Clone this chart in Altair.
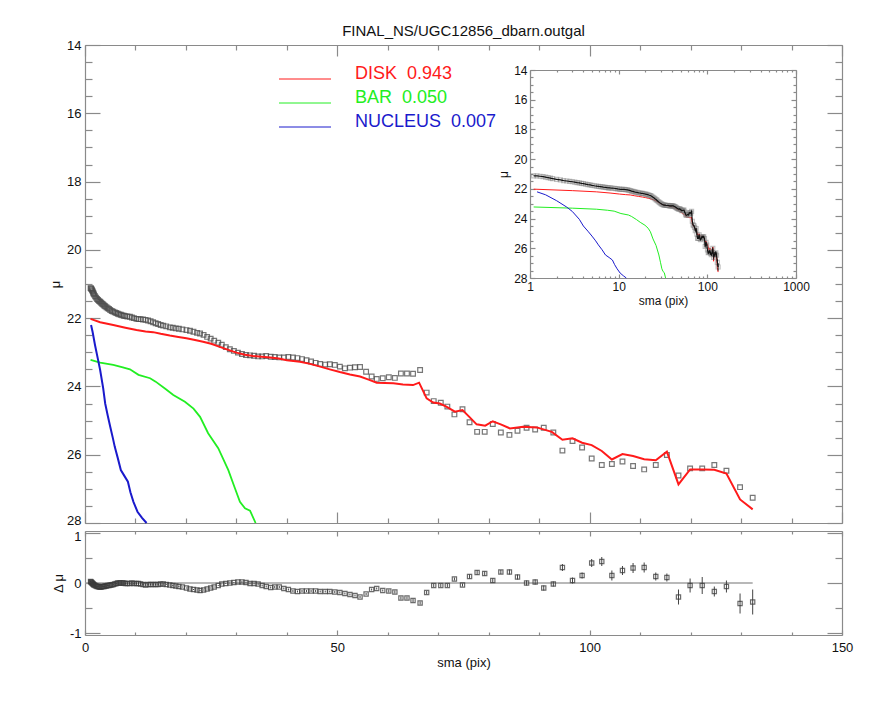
import altair as alt
import pandas as pd

# observed surface-brightness profile (sma in pix, mu, residual, error)
sma = [1.1, 1.2, 1.3, 1.4, 1.5, 1.6, 1.7, 1.8, 2.0, 2.2,
       2.4, 2.6, 2.8, 3.0, 3.2, 3.4, 3.6, 3.8, 4.0, 4.25,
       4.5, 4.75, 5.0, 5.3, 5.6, 5.9, 6.2, 6.5, 6.8, 7.1,
       7.4, 7.7, 8.0, 8.4, 8.9, 9.3, 9.7, 10.2, 10.6, 11.0,
       11.5, 12.0, 12.5, 13.0, 13.5, 14.0, 14.5, 15.0, 15.5, 16.1,
       16.8, 17.4, 18.0, 18.6, 19.3, 20.1, 20.8, 21.5, 22.2, 22.8,
       23.5, 24.2, 24.9, 25.6, 26.4, 27.1, 27.9, 28.7, 29.5, 30.3,
       31.1, 31.9, 32.7, 33.5, 34.3, 35.1, 35.9, 36.8, 37.6, 38.5,
       39.4, 40.3, 41.2, 42.1, 43.0, 43.9, 44.8, 45.7, 46.6, 47.6,
       48.5, 49.5, 50.5, 51.5, 52.5, 53.5, 54.5, 55.7, 56.8, 57.8,
       59.0, 60.2, 61.4, 62.6, 63.8, 65.0, 66.4, 67.7, 69.1, 70.5,
       71.8, 73.2, 74.8, 76.2, 77.7, 79.2, 80.8, 82.4, 84.1, 85.7,
       87.5, 89.2, 90.9, 92.8, 94.6, 96.6, 98.5, 100.4, 102.4, 104.4,
       106.5, 108.6, 110.8, 113.1, 115.3, 117.6, 119.9, 122.3, 124.7, 127.1,
       129.8, 132.3]
mu = [21.12, 21.13, 21.15, 21.18, 21.21, 21.25, 21.28, 21.31, 21.36, 21.40,
      21.44, 21.47, 21.50, 21.52, 21.55, 21.58, 21.60, 21.63, 21.65, 21.68,
      21.71, 21.73, 21.76, 21.79, 21.81, 21.83, 21.85, 21.87, 21.89, 21.90,
      21.92, 21.93, 21.94, 21.95, 21.96, 21.98, 22.00, 22.02, 22.03, 22.03,
      22.04, 22.05, 22.07, 22.09, 22.12, 22.15, 22.17, 22.20, 22.22, 22.24,
      22.27, 22.28, 22.30, 22.31, 22.33, 22.35, 22.37, 22.40, 22.43, 22.45,
      22.49, 22.55, 22.60, 22.66, 22.72, 22.78, 22.85, 22.91, 22.96, 23.01,
      23.05, 23.08, 23.09, 23.10, 23.12, 23.12, 23.11, 23.13, 23.14, 23.15,
      23.15, 23.14, 23.15, 23.17, 23.20, 23.23, 23.27, 23.31, 23.34, 23.36,
      23.35, 23.37, 23.42, 23.47, 23.45, 23.44, 23.43, 23.57, 23.71, 23.78,
      23.76, 23.73, 23.75, 23.62, 23.62, 23.63, 23.52, 24.18, 24.43, 24.48,
      24.59, 24.82, 24.67, 25.05, 25.33, 25.33, 25.10, 25.35, 25.42, 25.30,
      25.21, 25.26, 25.21, 25.35, 25.88, 25.60, 25.79, 26.11, 26.30, 26.27,
      26.20, 26.33, 26.43, 26.30, 26.01, 26.61, 26.40, 26.40, 26.30, 26.47,
      26.95, 27.26]
dmu = [0.03, 0.02, 0.01, 0.0, -0.01, -0.02, -0.03, -0.04, -0.05, -0.06,
       -0.07, -0.07, -0.08, -0.08, -0.08, -0.07, -0.07, -0.07, -0.06, -0.06,
       -0.05, -0.05, -0.04, -0.04, -0.03, -0.02, -0.01, 0.0, 0.0, 0.0,
       0.0, 0.0, -0.01, -0.01, -0.01, 0.0, -0.01, -0.01, -0.01, -0.02,
       -0.03, -0.04, -0.03, -0.03, -0.03, -0.03, -0.03, -0.02, -0.02, -0.03,
       -0.04, -0.05, -0.06, -0.07, -0.08, -0.10, -0.12, -0.13, -0.14, -0.15,
       -0.14, -0.12, -0.10, -0.08, -0.05, -0.02, -0.01, 0.0, 0.01, 0.02,
       0.02, 0.01, -0.01, -0.01, -0.02, -0.05, -0.07, -0.09, -0.08, -0.08,
       -0.11, -0.13, -0.16, -0.17, -0.16, -0.16, -0.16, -0.16, -0.17, -0.17,
       -0.17, -0.18, -0.19, -0.21, -0.23, -0.25, -0.28, -0.22, -0.13, -0.11,
       -0.15, -0.16, -0.18, -0.30, -0.30, -0.35, -0.40, -0.19, -0.05, -0.05,
       -0.05, 0.08, -0.04, 0.13, 0.21, 0.19, 0.05, 0.22, 0.22, 0.12,
       0.0, 0.02, -0.10, -0.02, 0.31, 0.05, 0.15, 0.40, 0.43, 0.15,
       0.25, 0.30, 0.31, 0.13, 0.11, -0.28, -0.05, -0.05, -0.17, -0.07,
       -0.41, -0.38]
err = [0.01, 0.01, 0.01, 0.01, 0.01, 0.01, 0.01, 0.01, 0.01, 0.01,
       0.01, 0.01, 0.01, 0.01, 0.01, 0.01, 0.01, 0.01, 0.01, 0.01,
       0.01, 0.01, 0.01, 0.01, 0.01, 0.01, 0.01, 0.01, 0.01, 0.01,
       0.01, 0.01, 0.01, 0.01, 0.01, 0.01, 0.01, 0.01, 0.01, 0.01,
       0.01, 0.01, 0.01, 0.01, 0.01, 0.01, 0.01, 0.01, 0.01, 0.01,
       0.01, 0.01, 0.01, 0.01, 0.01, 0.01, 0.01, 0.01, 0.01, 0.01,
       0.01, 0.01, 0.01, 0.01, 0.01, 0.01, 0.01, 0.01, 0.01, 0.01,
       0.02, 0.02, 0.02, 0.02, 0.02, 0.02, 0.02, 0.02, 0.02, 0.02,
       0.02, 0.02, 0.02, 0.02, 0.02, 0.02, 0.02, 0.02, 0.02, 0.02,
       0.02, 0.02, 0.02, 0.02, 0.02, 0.02, 0.02, 0.02, 0.02, 0.02,
       0.02, 0.03, 0.03, 0.03, 0.03, 0.03, 0.03, 0.03, 0.03, 0.03,
       0.03, 0.03, 0.03, 0.04, 0.04, 0.04, 0.04, 0.04, 0.05, 0.05,
       0.05, 0.05, 0.05, 0.05, 0.07, 0.06, 0.06, 0.08, 0.09, 0.10,
       0.09, 0.10, 0.10, 0.08, 0.08, 0.15, 0.14, 0.17, 0.10, 0.12,
       0.20, 0.25]

# model components
comp_names = ["DISK", "BAR", "NUCLEUS"]
comp_frac = [0.943, 0.050, 0.007]
comp_colors = ["#ff1a1a", "#22ee22", "#1a1acc"]

disk_sma = [1.1, 3.0, 5.6, 8.0, 10.2, 12.0, 13.5, 15.0, 16.8, 18.5,
            20.1, 21.8, 23.4, 25.0, 26.7, 28.4, 30.0, 31.7, 33.3, 35.0,
            36.7, 38.4, 40.0, 42.6, 44.6, 46.6, 48.5, 50.5, 52.5, 54.5,
            56.2, 57.8, 59.5, 61.1, 63.0, 65.0, 66.2, 67.7, 69.0, 70.3,
            71.6, 73.3, 74.8, 76.2, 77.6, 79.3, 80.8, 82.5, 84.2, 86.8,
            89.5, 92.5, 94.6, 96.6, 98.5, 100.4, 102.4, 104.4, 106.5, 108.6,
            110.8, 113.1, 115.3, 117.6, 119.9, 122.3, 124.7, 127.1, 129.8, 132.3]
disk_mu = [22.02, 22.12, 22.20, 22.28, 22.35, 22.39, 22.41, 22.46, 22.51, 22.55,
           22.59, 22.64, 22.69, 22.75, 22.84, 22.93, 23.01, 23.07, 23.11, 23.13,
           23.15, 23.18, 23.23, 23.28, 23.34, 23.42, 23.50, 23.58, 23.65, 23.71,
           23.80, 23.89, 23.90, 23.91, 23.94, 23.96, 23.89, 24.35, 24.47, 24.50,
           24.59, 24.74, 24.69, 24.90, 25.11, 25.15, 25.02, 25.12, 25.23, 25.18,
           25.20, 25.33, 25.56, 25.52, 25.65, 25.72, 25.89, 26.14, 25.98, 26.04,
           26.13, 26.16, 25.91, 26.87, 26.43, 26.43, 26.44, 26.55, 27.31, 27.60]
bar_sma = [1.1, 3.0, 5.6, 7.5, 8.9, 10.6, 12.9, 14.0, 15.9, 17.5, 19.8,
           21.5, 22.8, 24.4, 26.4, 28.4, 29.6, 30.7, 31.7, 32.7, 33.8]
bar_mu = [23.22, 23.30, 23.37, 23.44, 23.50, 23.66, 23.76, 23.86, 24.07, 24.25, 24.45,
          24.65, 24.89, 25.37, 25.81, 26.45, 26.94, 27.38, 27.57, 27.64, 28.0]
nuc_sma = [1.2, 1.5, 2.0, 2.6, 3.0, 3.6, 4.0, 4.5, 5.0, 5.5,
           5.9, 6.5, 7.1, 7.8, 8.5, 9.0, 9.6, 10.4, 11.3, 12.2]
nuc_mu = [22.20, 22.40, 22.80, 23.23, 23.52, 24.05, 24.50, 24.85, 25.18, 25.50,
          25.77, 26.10, 26.45, 26.62, 26.79, 27.10, 27.38, 27.67, 27.85, 28.0]

# tick values
main_y_ticks = [14, 14.5, 15, 15.5, 16, 16.5, 17, 17.5, 18, 18.5, 19, 19.5, 20, 20.5,
                21, 21.5, 22, 22.5, 23, 23.5, 24, 24.5, 25, 25.5, 26, 26.5, 27, 27.5, 28]
main_y_labels = [14, 16, 18, 20, 22, 24, 26, 28]
x_ticks = [0, 10, 20, 30, 40, 50, 60, 70, 80, 90, 100, 110, 120, 130, 140, 150]
x_labels = [0, 50, 100, 150]
res_y_ticks = [-1, -0.5, 0, 0.5, 1]
res_y_labels = [-1, 0, 1]
log_ticks = [1, 2, 3, 4, 5, 6, 7, 8, 9, 10, 20, 30, 40, 50, 60, 70, 80, 90,
             100, 200, 300, 400, 500, 600, 700, 800, 900, 1000]
log_labels = [1, 10, 100, 1000]

W, H = 757, 590
MAIN_H = 478
RES_TOP = 486
IN_X = [445, 711]
IN_Y = [25, 233]
GREY = "#8a8a8a"
FONT = "Liberation Sans"

obs = pd.DataFrame({"sma": sma, "mu": mu, "dmu": dmu, "err": err})
obs["mu_lo"] = obs["mu"] - obs["err"]
obs["mu_hi"] = obs["mu"] + obs["err"]
obs["d_lo"] = obs["dmu"] - obs["err"]
obs["d_hi"] = obs["dmu"] + obs["err"]

labels = [f"{n}\u00a0\u00a0{f:.3f}" for n, f in zip(comp_names, comp_frac)]
rows = []
for lab, xs, ys in zip(labels, [disk_sma, bar_sma, nuc_sma], [disk_mu, bar_mu, nuc_mu]):
    rows += [{"comp": lab, "sma": x, "mu": y} for x, y in zip(xs, ys)]
comps = pd.DataFrame(rows)
zero = pd.DataFrame({"x0": [0.0], "x1": [max(sma)], "y": [0.0]})


def lin(domain, rng):
    return alt.Scale(domain=domain, range=rng, nice=False, zero=False)


mx = lin([0, 150], [0, W])
my = lin([14, 28], [0, MAIN_H])
ry = lin([-1.04, 1.04], [H, RES_TOP])
ix = alt.Scale(type="log", domain=[1, 1000], range=IN_X, nice=False)
iy = lin([14, 28], IN_Y)

Y2 = "datum.value % 2 === 0"
X50 = "datum.value % 50 === 0"
Y1 = "datum.value % 1 === 0"
LOG = "indexof([1, 10, 100, 1000], datum.value) >= 0"


def tick_axis(orient, offset, values, test, big, small):
    # inward pointing IDL-style ticks: opposite orient placed on the frame edge
    return alt.Axis(orient=orient, offset=offset, values=values, labels=False,
                    domain=True, domainColor=GREY, domainWidth=1.2,
                    ticks=True, tickColor=GREY, tickWidth=1.2,
                    tickSize={"condition": {"test": test, "value": big}, "value": small},
                    grid=False, title=None)


def label_axis(orient, offset, values, title, size, pad, tpad, shift=None):
    extra = {}
    if shift:
        extra["labelOffset"] = {"condition": {"test": shift[0], "value": shift[1]}, "value": 0}
    return alt.Axis(orient=orient, offset=offset, values=values,
                    labelExpr="toString(datum.value)", labelFont=FONT,
                    labelFontSize=size, labelColor="#111", labelPadding=pad,
                    labelFlush=False, labelOverlap=False,
                    domain=False, ticks=False, tickSize=0, grid=False,
                    title=title, titleFont=FONT, titleFontSize=size,
                    titleFontWeight="normal", titleColor="#111", titlePadding=tpad,
                    **extra)


legend = alt.Legend(
    title=None, orient="none", legendX=211, legendY=20, padding=0,
    symbolType="M-5.2,1H5.2", symbolSize=100, symbolStrokeWidth=1,
    labelFont=FONT, labelFontSize=18, labelOffset=41, rowPadding=6, labelLimit=300,
    labelColor=alt.ExprRef(expr="indexof(datum.value, 'DISK') >= 0 ? '#ff1a1a' : "
                                "indexof(datum.value, 'BAR') >= 0 ? '#22ee22' : '#1a1acc'"),
)
color = alt.Color("comp:N", scale=alt.Scale(domain=labels, range=comp_colors), legend=legend)

square = dict(shape="square", filled=False, strokeWidth=1.2)

# main panel
m_sq = alt.Chart(obs).mark_point(size=22, color="#4a4a4a", opacity=0.75, **square).encode(
    x=alt.X("sma:Q", scale=mx, axis=tick_axis("top", -MAIN_H, x_ticks, X50, 11, 5)),
    y=alt.Y("mu:Q", scale=my, axis=label_axis("left", 0, main_y_labels, "μ", 13, 4, 4,
                                              shift=("datum.value === 28", -3))),
)
m_disk = alt.Chart(comps).mark_line(strokeWidth=2).encode(
    x=alt.X("sma:Q", scale=mx, axis=tick_axis("bottom", -H, x_ticks, X50, 11, 5)),
    y=alt.Y("mu:Q", scale=my, axis=tick_axis("right", -W, main_y_ticks, Y2, 15, 7)),
    color=color,
).transform_filter(alt.datum.comp == labels[0])
m_bar = alt.Chart(comps).mark_line(strokeWidth=1.8).encode(
    x=alt.X("sma:Q", scale=mx, axis=None),
    y=alt.Y("mu:Q", scale=my, axis=tick_axis("left", -W, main_y_ticks, Y2, 15, 7)),
    color=color,
).transform_filter(alt.datum.comp == labels[1])
m_nuc = alt.Chart(comps).mark_line(strokeWidth=2).encode(
    x=alt.X("sma:Q", scale=mx, axis=None),
    y=alt.Y("mu:Q", scale=my, axis=None),
    color=color,
).transform_filter(alt.datum.comp == labels[2])

# residual panel
r_zero = alt.Chart(zero).mark_rule(color="#a0a0a0", strokeWidth=1.5).encode(
    x=alt.X("x0:Q", scale=mx, axis=label_axis("bottom", 0, x_labels, "sma (pix)", 13, 6, 2)),
    x2="x1:Q",
    y=alt.Y("y:Q", scale=ry, axis=label_axis("left", 0, res_y_labels, "Δ μ", 13, 4, 4,
                                             shift=("datum.value === 1", 3))),
)
r_err = alt.Chart(obs).mark_rule(color="#444", strokeWidth=1).encode(
    x=alt.X("sma:Q", scale=mx, axis=tick_axis("top", -H, x_ticks, X50, 5, 3)),
    y=alt.Y("d_lo:Q", scale=ry, axis=tick_axis("right", -W, res_y_ticks, Y1, 15, 7)),
    y2="d_hi:Q",
)
r_sq = alt.Chart(obs).mark_point(size=18, color="#3a3a3a", opacity=0.75, **square).encode(
    x=alt.X("sma:Q", scale=mx, axis=tick_axis("bottom", RES_TOP - H, x_ticks, X50, 5, 3)),
    y=alt.Y("dmu:Q", scale=ry, axis=tick_axis("left", -W, res_y_ticks, Y1, 15, 7)),
)

# inset panel
i_comp = alt.Chart(comps).mark_line(strokeWidth=1).encode(
    x=alt.X("sma:Q", scale=ix, axis=None),
    y=alt.Y("mu:Q", scale=iy, axis=None),
    color=color,
)
i_sq = alt.Chart(obs).mark_point(size=16, color="#777", opacity=0.45, **square).encode(
    x=alt.X("sma:Q", scale=ix, axis=tick_axis("top", -IN_Y[1], log_ticks, LOG, 4, 2)),
    y=alt.Y("mu:Q", scale=iy, axis=tick_axis("right", IN_X[0] - W, main_y_ticks, Y2, 5, 3)),
)
i_err = alt.Chart(obs).mark_rule(color="#222", strokeWidth=1).encode(
    x=alt.X("sma:Q", scale=ix, axis=tick_axis("bottom", IN_Y[0] - H, log_ticks, LOG, 4, 2)),
    y=alt.Y("mu_lo:Q", scale=iy, axis=tick_axis("left", -IN_X[1], main_y_ticks, Y2, 5, 3)),
    y2="mu_hi:Q",
)
i_line = alt.Chart(obs).mark_line(color="#111", strokeWidth=1.2).encode(
    x=alt.X("sma:Q", scale=ix, axis=label_axis("bottom", IN_Y[1] - H, log_labels, "sma (pix)", 12, 3, 3)),
    y=alt.Y("mu:Q", scale=iy, axis=label_axis("left", -IN_X[0], main_y_labels, "μ", 12, 3, 3)),
)

chart = alt.layer(
    m_sq, m_disk, m_bar, m_nuc, r_zero, r_err, r_sq, i_comp, i_sq, i_err, i_line
).resolve_scale(
    x="independent", y="independent"
).properties(
    width=W, height=H,
    title=alt.TitleParams("FINAL_NS/UGC12856_dbarn.outgal", font=FONT, fontSize=15,
                          fontWeight="normal", color="#111", anchor="middle", offset=0),
    autosize=alt.AutoSizeParams(type="none"),
    padding={"left": 77, "top": 37, "right": 35, "bottom": 65},
).configure_view(stroke=None)

chart.save("out.html", embed_options={"renderer": "svg", "actions": False})
